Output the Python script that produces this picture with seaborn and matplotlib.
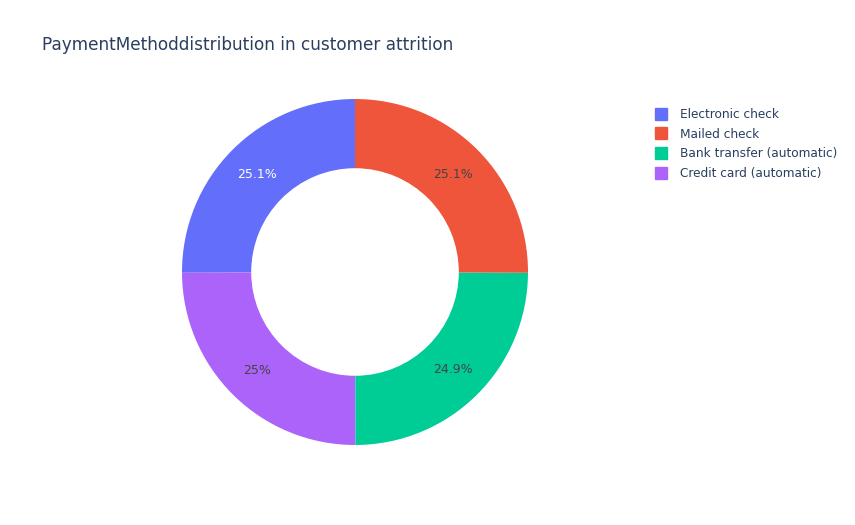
import seaborn as sns
import matplotlib.pyplot as plt
from matplotlib.lines import Line2D

# payment method shares (percent) in customer attrition
methods = ['Electronic check', 'Mailed check', 'Bank transfer (automatic)', 'Credit card (automatic)']
shares = [25.07, 25.07, 24.88, 24.98]
colors = ['#636efa', '#EF553B', '#00cc96', '#ab63fa']

# order the slices go round (counter-clockwise from 12 o'clock)
slice_order = [0, 3, 2, 1]

sns.set_theme(style='white')
plt.rcParams['font.family'] = ['DejaVu Sans']

fig = plt.figure(figsize=(8.55, 5.25), dpi=100)
ax = fig.add_axes([182 / 855, 80 / 525, 346 / 855, 346 / 525])

vals = [shares[i] for i in slice_order]
cols = [colors[i] for i in slice_order]


def fmt(p):
    s = f'{p:.1f}'
    if s.endswith('.0'):
        s = s[:-2]
    return s + '%'


wedges, texts, autotexts = ax.pie(
    vals, colors=cols, startangle=90, counterclock=True,
    autopct=fmt, pctdistance=0.8,
    wedgeprops=dict(width=0.4, linewidth=0),
    textprops=dict(fontsize=9, color='#444444'))
for i, t in zip(slice_order, autotexts):
    if i == 0:
        t.set_color('white')
ax.set_xlim(-1, 1)
ax.set_ylim(-1, 1)

fig.text(42 / 855, 1 - 45 / 525, 'PaymentMethoddistribution in customer attrition',
         fontsize=12.2, color='#2a3f5f', va='center', ha='left')

handles = [Line2D([], [], marker='s', linestyle='none', markersize=8.5,
                  markerfacecolor=c, markeredgecolor=c) for c in colors]
fig.legend(handles, methods, loc='upper left', bbox_to_anchor=(654 / 855, 1 - 108 / 525),
           frameon=False, fontsize=8.7, labelcolor='#2a3f5f', handlelength=1.2,
           handletextpad=0.95, labelspacing=0.55, borderpad=0, borderaxespad=0)

fig.savefig('out.png', dpi=100)
